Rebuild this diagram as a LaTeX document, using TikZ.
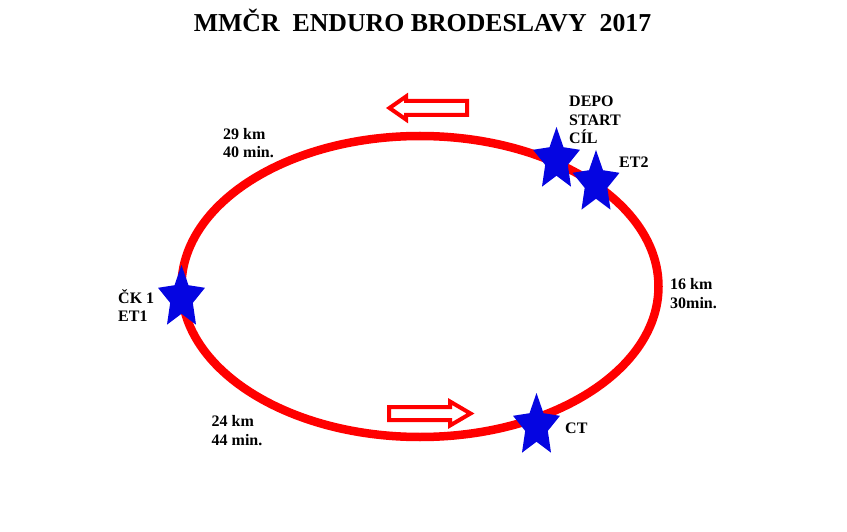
\documentclass[tikz,border=0pt]{standalone}
\usepackage{fontspec}
\setmainfont{Liberation Serif}
\definecolor{trackred}{RGB}{255,0,0}
\definecolor{starblue}{RGB}{5,5,225}
\tikzset{
  track/.style={draw=trackred, line width=8.5pt},
  dirarrow/.style={draw=trackred, line width=4pt, fill=white, line join=miter},
  lbl/.style={font=\fontsize{16}{18.5}\selectfont\bfseries, inner sep=0pt, align=left, anchor=base west},
  ttl/.style={font=\fontsize{25.8}{30}\selectfont\bfseries, inner sep=0pt, anchor=base},
  bstar/.pic={
    \fill[starblue] (270:24.7 and 33) -- (306:11.9 and 15.8) -- (342:24.7 and 33) -- (18:11.9 and 15.8)
      -- (54:24.7 and 33) -- (90:11.9 and 15.8) -- (126:24.7 and 33) -- (162:11.9 and 15.8)
      -- (198:24.7 and 33) -- (234:11.9 and 15.8) -- cycle;
  }
}
\begin{document}
\begin{tikzpicture}[x=1pt,y=-1pt]
\useasboundingbox (0,0) rectangle (847,532);
\node[ttl] (title) at (422.5,32) {MMČR\ \ ENDURO BRODESLAVY\ \ 2017};
% track
\draw[track] (420,286.5) ellipse [x radius=238.5, y radius=150.5];
% direction arrows
\draw[dirarrow] (389.5,108) -- (406,96.5) -- (406,101) -- (467,101) -- (467,115) -- (406,115) -- (406,119.5) -- cycle;
\draw[dirarrow] (470.5,413.5) -- (450,401.5) -- (450,407) -- (389,407) -- (389,420) -- (450,420) -- (450,425.5) -- cycle;
% stars
\pic (depo) at (556.5,160) {bstar};
\pic (et2) at (596,183) {bstar};
\pic (ck1) at (181.5,298) {bstar};
\pic (ct) at (536.5,426) {bstar};
% labels (anchor = baseline of last line)
\node[lbl] (ldepo) at (569,144) {DEPO\\START\\CÍL};
\node[lbl] (let2) at (619,168) {ET2};
\node[lbl] (lck1) at (118,321.5) {ČK 1\\ET1};
\node[lbl] (lct) at (565,433) {CT};
\node[lbl] (l29) at (223,158) {29 km\\40 min.};
\node[lbl] (l16) at (670,308) {16 km\\30min.};
\node[lbl] (l24) at (211.5,445) {24 km\\44 min.};
\end{tikzpicture}
\end{document}
